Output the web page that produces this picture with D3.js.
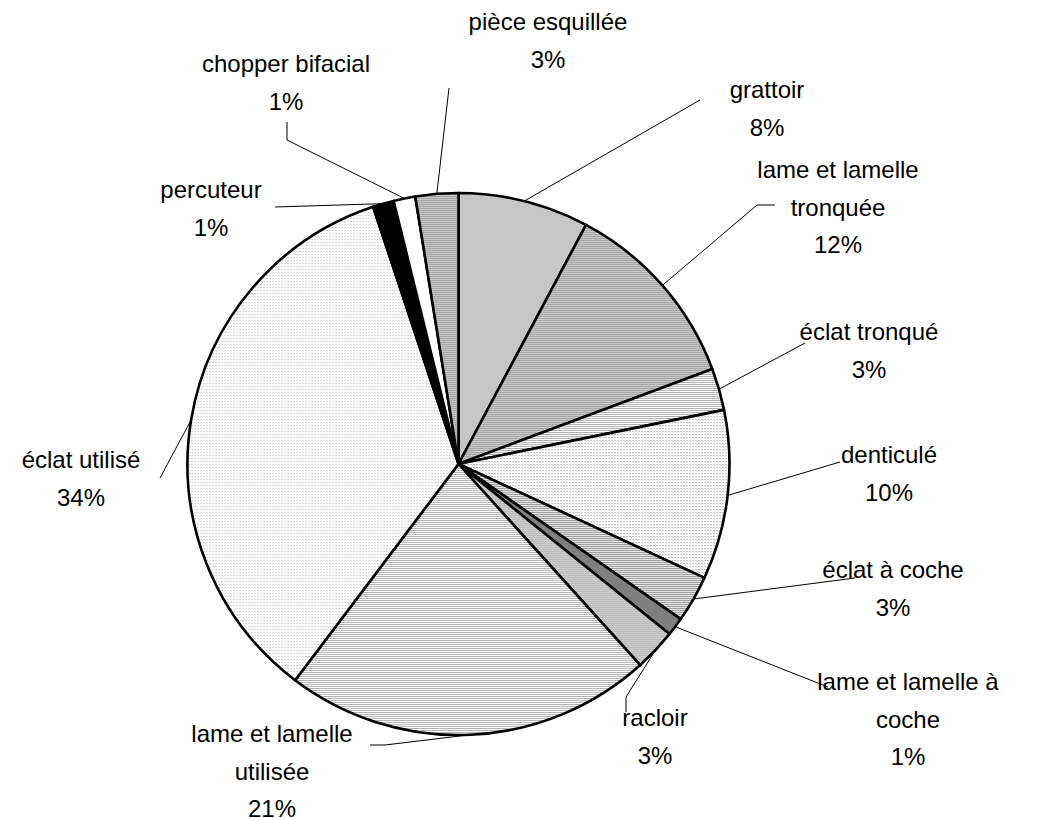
<!DOCTYPE html>
<html><head><meta charset="utf-8">
<script src="https://cdn.jsdelivr.net/npm/d3@7"></script>
<style>html,body{margin:0;padding:0;background:#fff;}svg{display:block;}</style>
</head><body>
<svg id="chart" width="1062" height="818"></svg>
<script>
// ---- data ----
const categories = ["grattoir","lame et lamelle tronquée","éclat tronqué","denticulé","éclat à coche","lame et lamelle à coche","racloir","lame et lamelle utilisée","éclat utilisé","percuteur","chopper bifacial","pièce esquillée"];
const values = [7.8, 11.5, 2.5, 10.1, 2.8, 1.1, 2.5, 22.0, 34.6, 1.25, 1.3, 2.55];
const percentLabels = ["8%","12%","3%","10%","3%","1%","3%","21%","34%","1%","1%","3%"];
const labelLines = [["grattoir"],["lame et lamelle","tronquée"],["éclat tronqué"],["denticulé"],["éclat à coche"],["lame et lamelle à","coche"],["racloir"],["lame et lamelle","utilisée"],["éclat utilisé"],["percuteur"],["chopper bifacial"],["pièce esquillée"]];

// ---- layout (annotation placement) ----
const labelPos = [[767,90],[838,170],[869,332],[889,455],[893,570],[908,682],[655,718],[272,734],[81,460],[211,190],[286,64],[548,22]];
const leaderPts = [[[700,100]],[[775,205],[757,205]],[[805,343]],[[840,462]],[[855,578]],[[828,687]],[[626,712],[626,697]],[[370,745],[385,745]],[[160,478]],[[275,207]],[[287,122],[287,140]],[[449,88]]];

const svg = d3.select("#chart");
const cx = 458.5, cy = 464, R = 271;
const defs = svg.append("defs");
// pattern specs: size, background, dots [x,y,color]
const patSpecs = [
  [2,"#ffffff",[[0,0,"#8c8c8c"],[1,1,"#8c8c8c"]]],
  [2,"#c4c4c4",[[0,0,"#909090"]]],
  [2,"#ffffff",[[0,0,"#8a8a8a"],[1,0,"#d8d8d8"]]],
  [3,"#ffffff",[[0,0,"#8a8a8a"],[1,1,"#dddddd"]]],
  [2,"#c8c8c8",[[0,0,"#7a7a7a"],[1,1,"#ffffff"]]],
  [1,"#7f7f7f",[]],
  [2,"#bdbdbd",[[0,0,"#d8d8d8"]]],
  [2,"#ffffff",[[0,0,"#a8a8a8"],[1,0,"#bdbdbd"]]],
  [3,"#ffffff",[[0,0,"#b8b8b8"],[1,1,"#f0f0f0"]]],
  [1,"#000000",[]],
  [1,"#ffffff",[]],
  [2,"#c4c4c4",[[0,0,"#8c8c8c"]]]
];
patSpecs.forEach((s,i)=>{
  const p = defs.append("pattern").attr("id","p"+i).attr("patternUnits","userSpaceOnUse")
    .attr("width",s[0]).attr("height",s[0]);
  p.append("rect").attr("width",s[0]).attr("height",s[0]).attr("fill",s[1]);
  s[2].forEach(d=>p.append("rect").attr("x",d[0]).attr("y",d[1]).attr("width",1).attr("height",1).attr("fill",d[2]));
});

const pie = d3.pie().sort(null).value(d=>d).startAngle(0).endAngle(2*Math.PI);
const arcs = pie(values);
const arc = d3.arc().innerRadius(0).outerRadius(R);
const g = svg.append("g").attr("transform",`translate(${cx},${cy})`);
g.selectAll("path").data(arcs).join("path")
  .attr("d",arc).attr("fill",(d,i)=>`url(#p${i})`)
  .attr("stroke","#000").attr("stroke-width",2.6).attr("stroke-linejoin","round");

// leaders
const line = d3.line();
arcs.forEach((a,i)=>{
  const m = (a.startAngle+a.endAngle)/2;
  const end = [cx + R*Math.sin(m), cy - R*Math.cos(m)];
  const pts = leaderPts[i].concat([end]);
  svg.append("path").attr("d",line(pts)).attr("fill","none").attr("stroke","#000").attr("stroke-width",1);
});

// labels
const lh = 37.5;
categories.forEach((c,i)=>{
  const lines = labelLines[i].concat([percentLabels[i]]);
  const t = svg.append("text").attr("text-anchor","middle")
    .attr("font-family","Liberation Sans, Arial, sans-serif").attr("font-size",24).attr("fill","#000");
  lines.forEach((ln,k)=>{
    t.append("tspan").attr("x",labelPos[i][0]).attr("y",labelPos[i][1]+k*lh).attr("dy","0.35em").text(ln);
  });
});
</script>
</body></html>
